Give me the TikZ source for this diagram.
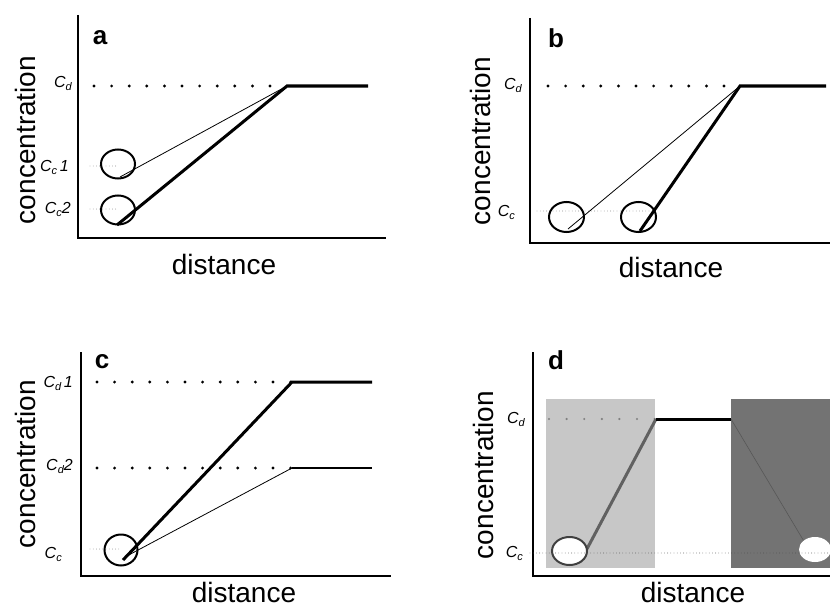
\documentclass[tikz,border=0pt]{standalone}
\usepackage{fontspec}
\setmainfont{Liberation Sans}
\newcommand{\Csub}[1]{\textit{C}\raisebox{-3.5pt}{\fontsize{11}{11}\selectfont\textit{#1}}}
\begin{document}
\begin{tikzpicture}[x=1pt,y=-1pt,
 axis/.style={line width=2.2pt},
 thickln/.style={line width=3pt,line join=miter},
 thinln/.style={line width=0.8pt},
 ring/.style={line width=2pt},
 bigdots/.style={line width=3.2pt,line cap=round,dash pattern=on 0pt off 17.6pt},
 finedots/.style={line width=0.8pt,line cap=round,dash pattern=on 0pt off 3.2pt,black!55},
 lab/.style={font=\fontsize{16}{16}\selectfont\itshape,anchor=base east,inner sep=0pt},
 axlab/.style={font=\fontsize{28}{28}\selectfont,inner sep=0pt},
 panel/.style={font=\fontsize{26}{26}\selectfont\bfseries,inner sep=0pt}]
\useasboundingbox (0,0) rectangle (830,610);

% ================= panel a =================
\draw[axis] (78,15) -- (78,238) -- (386,238);
\node[panel] (pa) at (100,38) {a};
\node[axlab,rotate=90] (ya) at (25,140) {concentration};
\node[axlab] (xa) at (224,264) {distance};
\node[lab] (cda) at (72,87.5) {\Csub{d}};
\node[lab] (cc1a) at (69,171) {\Csub{c}\,1};
\node[lab] (cc2a) at (71,213) {\Csub{c}2};
\coordinate (ka) at (287,86);
\draw[bigdots] (94,86) -- (ka);
\draw[finedots] (90,166) -- (118,166);
\draw[finedots] (90,209) -- (118,209);
\draw[ring] (118,164) ellipse [x radius=17, y radius=14.5];
\draw[ring] (118,210) ellipse [x radius=17, y radius=14.5];
\draw[thinln] (120,177) -- (ka);
\draw[thickln] (117,225) -- (ka) -- (368,86);

% ================= panel b =================
\draw[axis] (530,18) -- (530,243) -- (830,243);
\node[panel] (pb) at (556,38) {b};
\node[axlab,rotate=90] (yb) at (480,141) {concentration};
\node[axlab] (xb) at (671,267) {distance};
\node[lab] (cdb) at (522,89) {\Csub{d}};
\node[lab] (ccb) at (515,216) {\Csub{c}};
\coordinate (kb) at (740,86);
\draw[bigdots] (548,86) -- (kb);
\draw[finedots] (537,211) -- (652,211);
\draw[ring] (566.5,217) ellipse [x radius=17.5, y radius=15];
\draw[ring] (638.5,217) ellipse [x radius=17.5, y radius=15];
\draw[thinln] (568,229) -- (kb);
\draw[thickln] (640,231) -- (kb) -- (826,86);

% ================= panel c =================
\draw[axis] (81,352) -- (81,576) -- (391,576);
\node[panel] (pc) at (102,362) {c};
\node[axlab,rotate=90] (yc) at (25,464) {concentration};
\node[axlab] (xc) at (244,592) {distance};
\node[lab] (cd1c) at (73,387) {\Csub{d}\,1};
\node[lab] (cd2c) at (73,470) {\Csub{d}2};
\node[lab] (ccc) at (62,558) {\Csub{c}};
\coordinate (k1c) at (292,382);
\coordinate (k2c) at (292,468);
\draw[bigdots] (97,382) -- (k1c);
\draw[bigdots] (97,468) -- (k2c);
\draw[finedots] (90,549) -- (121,549);
\draw[ring] (121,550) ellipse [x radius=16.5, y radius=15.5];
\draw[thinln] (125,557) -- (k2c);
\draw[line width=2.6pt] (k2c) -- (372,468);
\draw[thickln] (123,560) -- (k1c) -- (372,382);

% ================= panel d =================
\fill[black!22] (546,399) rectangle (655,568);
\fill[black!55] (731,399) rectangle (830,568);
\draw[axis] (533,352) -- (533,576) -- (830,576);
\node[panel] (pd) at (556,360) {d};
\node[axlab,rotate=90] (yd) at (483,475) {concentration};
\node[axlab] (xd) at (693,592) {distance};
\node[lab] (cdd) at (525,423) {\Csub{d}};
\node[lab] (ccd) at (523,557) {\Csub{c}};
\coordinate (kd) at (656,419);
\coordinate (ed) at (731,419);
\draw[bigdots,black!50,line width=2.4pt] (549,419) -- (kd);
\draw[black!66,line width=0.6pt] (ed) -- (805,543);
\draw[thickln,black!62] (580,562) -- (kd);
\draw[thickln] (kd) -- (ed);
\draw[ring,black!75,fill=white] (569.5,551) ellipse [x radius=17.5, y radius=14];
\fill[white] (815,549.5) ellipse [x radius=16, y radius=12.5];
\draw[finedots,black!70] (530,553) -- (830,553);
\end{tikzpicture}
\end{document}
